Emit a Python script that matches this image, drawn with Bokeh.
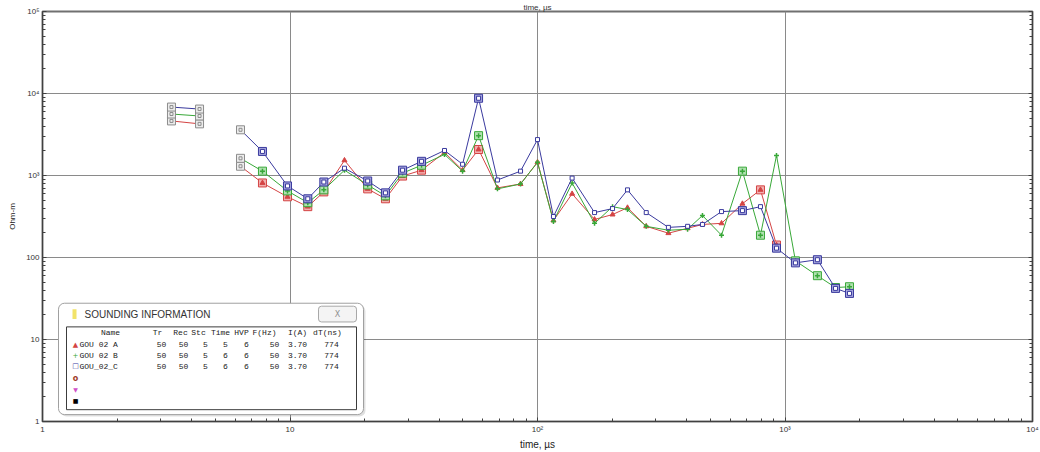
import math
from bokeh.plotting import figure
from bokeh.models import Range1d, LogAxis, FixedTicker, Label, BoxAnnotation
from bokeh.embed import file_html
from bokeh.resources import INLINE

# ---------------- data ----------------
times = [3.32, 4.31, 6.31, 7.74, 9.77, 11.8, 13.7, 16.6, 20.6, 24.3, 28.5, 34.0,
         42.1, 49.8, 57.8, 68.9, 85.4, 100, 116, 138, 170, 201, 231, 275, 338,
         404, 464, 554, 673, 796, 924, 1102, 1352, 1600, 1822]

rho_a = [4630, 4265, 1297, 811, 550, 417, 631, 1531, 687, 520, 984, 1161,
         1910, 1161, 2075, 706, 788, 1449, 283, 598, 291, 334, 405, 240, 198,
         227, 253, 261, 453, 668, 142]
rho_b = [5620, 5320, 1620, 1130, 649, 466, 668, 1161, 767, 565, 1069, 1334,
         1807, 1130, 3060, 687, 788, 1449, 275, 811, 261, 417, 384, 240, 215,
         221, 325, 187, 1130, 187, 1758, 91, 60, 43, 44]
rho_c = [6830, 6460, 3610, 1965, 746, 520, 833, 1227, 857, 614, 1161, 1489,
         2019, 1371, 8750, 881, 1130, 2742, 316, 930, 353, 395, 668, 353, 233,
         240, 253, 363, 373, 417, 130, 86, 94, 42, 36.5]

gray_idx = [0, 1, 2]
boxed_a = [3, 4, 5, 6, 8, 9, 10, 11, 14, 29, 30]
boxed_b = [3, 4, 5, 6, 8, 9, 10, 11, 14, 28, 29, 31, 32, 33, 34]
boxed_c = [3, 4, 5, 6, 8, 9, 10, 11, 14, 28, 30, 31, 32, 33, 34]

names = ["GOU 02 A", "GOU 02 B", "GOU_02_C"]
col_tr = ["50", "50", "50"]
col_rec = ["50", "50", "50"]
col_stc = ["5", "5", "5"]
col_time = ["5", "6", "6"]
col_hvp = ["6", "6", "6"]
col_f = ["50", "50", "50"]
col_i = ["3.70", "3.70", "3.70"]
col_dt = ["774", "774", "774"]
headers = ["Name", "Tr", "Rec", "Stc", "Time", "HVP", "F(Hz)", "I(A)", "dT(ns)"]

x_ticks = [1, 10, 100, 1000, 10000]
x_tick_labels = ["1", "10", "10²", "10³", "10⁴"]
y_ticks = [1, 10, 100, 1000, 10000, 100000]
y_tick_labels = ["1", "10", "100", "10³", "10⁴", "10⁵"]

# ---------------- figure ----------------
FL, FR, FT, FB = 42, 1032, 10, 426  # frame edges in canvas pixels
XMIN, XMAX, YMIN, YMAX = 1.0, 1e4, 1.0, 1e5


def dx(px):
    # canvas pixel -> data x (log axis), used only for the overlay window
    f = (px - FL) / (FR - FL)
    return 10 ** (math.log10(XMIN) + f * (math.log10(XMAX) - math.log10(XMIN)))


def dy(py):
    f = (FB - py) / (FB - FT)
    return 10 ** (math.log10(YMIN) + f * (math.log10(YMAX) - math.log10(YMIN)))


p = figure(width=1040, height=452, x_axis_type="log", y_axis_type="log",
           x_range=Range1d(XMIN, XMAX), y_range=Range1d(YMIN, YMAX),
           output_backend="svg", toolbar_location=None,
           min_border_left=42, min_border_right=8, min_border_top=10,
           min_border_bottom=26)
p.background_fill_color = "white"
p.border_fill_color = "white"
p.outline_line_color = "#707070"
p.outline_line_width = 2

p.title.text = "time, µs"
p.title.align = "center"
p.title.text_font = "Liberation Sans"
p.title.text_font_size = "8px"
p.title.text_font_style = "normal"
p.title.text_color = "#333333"
p.title.standoff = 0
p.title.offset = 0

minor_x = [m * 10 ** d for d in range(0, 4) for m in range(2, 10)]
minor_y = [m * 10 ** d for d in range(0, 5) for m in range(2, 10)]

p.xaxis.ticker = FixedTicker(ticks=x_ticks, minor_ticks=minor_x)
p.yaxis.ticker = FixedTicker(ticks=y_ticks, minor_ticks=minor_y)
p.xaxis.major_label_overrides = {float(t): l for t, l in zip(x_ticks, x_tick_labels)}
p.yaxis.major_label_overrides = {float(t): l for t, l in zip(y_ticks, y_tick_labels)}

for ax in (p.xaxis[0], p.yaxis[0]):
    ax.axis_line_color = "#404040"
    ax.major_tick_line_color = "#404040"
    ax.minor_tick_line_color = "#404040"
    ax.major_tick_in = 4
    ax.major_tick_out = 0
    ax.minor_tick_in = 3
    ax.minor_tick_out = 0
    ax.major_label_text_font = "Liberation Sans"
    ax.major_label_text_font_size = "8px"
    ax.major_label_text_color = "#333333"
    ax.major_label_standoff = 3

p.xaxis.axis_label = "time, µs"
p.xaxis.axis_label_text_font = "Liberation Sans"
p.xaxis.axis_label_text_font_size = "10px"
p.xaxis.axis_label_text_font_style = "normal"
p.xaxis.axis_label_text_color = "#222222"
p.xaxis.axis_label_standoff = 2

p.yaxis.axis_label = "Ohm-m"
p.yaxis.axis_label_text_font = "Liberation Sans"
p.yaxis.axis_label_text_font_size = "8px"
p.yaxis.axis_label_text_font_style = "normal"
p.yaxis.axis_label_text_color = "#222222"
p.yaxis.axis_label_standoff = 6

right_axis = LogAxis(ticker=FixedTicker(ticks=y_ticks, minor_ticks=minor_y),
                     major_label_text_font_size="1px", major_label_standoff=0,
                     major_label_text_alpha=0,
                     major_tick_in=4, major_tick_out=0, minor_tick_in=3, minor_tick_out=0,
                     axis_line_color="#404040", major_tick_line_color="#404040",
                     minor_tick_line_color="#404040")
p.add_layout(right_axis, "right")

p.xgrid.ticker = FixedTicker(ticks=x_ticks)
p.ygrid.ticker = FixedTicker(ticks=y_ticks)
p.grid.grid_line_color = "#8a8a8a"
p.grid.grid_line_width = 1
p.grid.grid_line_alpha = 1
p.xgrid.minor_grid_line_color = None
p.ygrid.minor_grid_line_color = None

# ---------------- series ----------------
GRAY = "#8c8c8c"
series = [
    (rho_a, "#d44444", "#f2b0b0", "triangle", boxed_a),
    (rho_b, "#38a838", "#b0e0b0", "cross", boxed_b),
    (rho_c, "#3a3a9e", "#a4a4dc", "square", boxed_c),
]

for vals, col, light, mk, boxed in series:
    n = len(vals)
    t = times[:n]
    p.line(t[0:2], vals[0:2], line_color=col, line_width=1)
    p.line(t[2:], vals[2:], line_color=col, line_width=1)
    gx = [t[i] for i in gray_idx]
    gy = [vals[i] for i in gray_idx]
    p.scatter(gx, gy, marker="square", size=8, fill_color="#ececec",
              line_color=GRAY, line_width=1)
    p.scatter(gx, gy, marker="square", size=3, fill_color=None,
              line_color=GRAY, line_width=1)
    bi = [i for i in boxed if i < n]
    p.scatter([t[i] for i in bi], [vals[i] for i in bi], marker="square", size=8,
              fill_color=light, line_color=col, line_width=1)
    rest = [i for i in range(n) if i not in gray_idx]
    rx = [t[i] for i in rest]
    ry = [vals[i] for i in rest]
    if mk == "triangle":
        p.scatter(rx, ry, marker="triangle", size=5, fill_color=col, line_color=col)
    elif mk == "cross":
        p.scatter(rx, ry, marker="cross", size=5, line_color=col, line_width=1.5)
    else:
        p.scatter(rx, ry, marker="square", size=4, fill_color="white", line_color=col,
                  line_width=1)

# ---------------- sounding information window ----------------
def box(l, t_, r, b, fill, line=None, radius=0, lw=1, alpha=1.0):
    ba = BoxAnnotation(left=dx(l), right=dx(r), top=dy(t_), bottom=dy(b),
                       fill_color=fill, fill_alpha=alpha,
                       line_color=line if line else fill,
                       line_alpha=1 if line else 0, line_width=lw,
                       border_radius=radius)
    p.add_layout(ba)
    return ba


def label(px, py, text, size="8px", font="Liberation Mono", color="#222222",
          align="left", baseline="middle", angle=0.0, style="normal"):
    lb = Label(x=dx(px), y=dy(py), text=text,
               text_font=font, text_font_size=size, text_color=color,
               text_align=align, text_baseline=baseline, angle=angle,
               text_font_style=style)
    p.add_layout(lb)
    return lb


box(60, 308, 365, 421, "#000000", alpha=0.12, radius=6)
box(58, 306, 363, 419, "#ffffff", line="#a0a0a0", radius=6)
box(66, 330, 356, 414, "#ffffff", line="#3c3c3c")
box(318, 309, 356, 325, "#f4f4f4", line="#a8a8a8", radius=3)
box(72, 312, 76, 322, "#f2e36a")
label(337, 317, "X", size="8px", font="DejaVu Sans", color="#909090", align="center")
label(84, 317, "SOUNDING INFORMATION", size="10px", font="Liberation Sans",
      color="#333333")

hdr_x = [110, 157, 180, 198, 220, 241, 264, 297, 327]
for hx, h in zip(hdr_x, headers):
    label(hx, 336, h, align="center")

row_y = [348, 359, 370]
val_x = [161, 183, 205, 225, 246, 274, 297, 331]
sym = [("▲", "#d44444"), ("+", "#38a838"), ("□", "#3a3a9e")]
for k in range(3):
    y = row_y[k]
    label(75, y, sym[k][0], size="7px", font="DejaVu Sans", color=sym[k][1],
          align="center")
    label(79, y, names[k])
    cols = [col_tr[k], col_rec[k], col_stc[k], col_time[k], col_hvp[k], col_f[k],
            col_i[k], col_dt[k]]
    for vx, v in zip(val_x, cols):
        label(vx, y, v, align="center")

label(75, 382, "o", size="8px", font="DejaVu Sans", color="#a03c28", align="center",
      style="bold")
label(75, 394, "▼", size="6px", font="DejaVu Sans", color="#d050c8", align="center")
label(75, 405, "■", size="6px", font="DejaVu Sans", color="#000000", align="center")

open("out.html", "w").write(file_html(p, INLINE))
